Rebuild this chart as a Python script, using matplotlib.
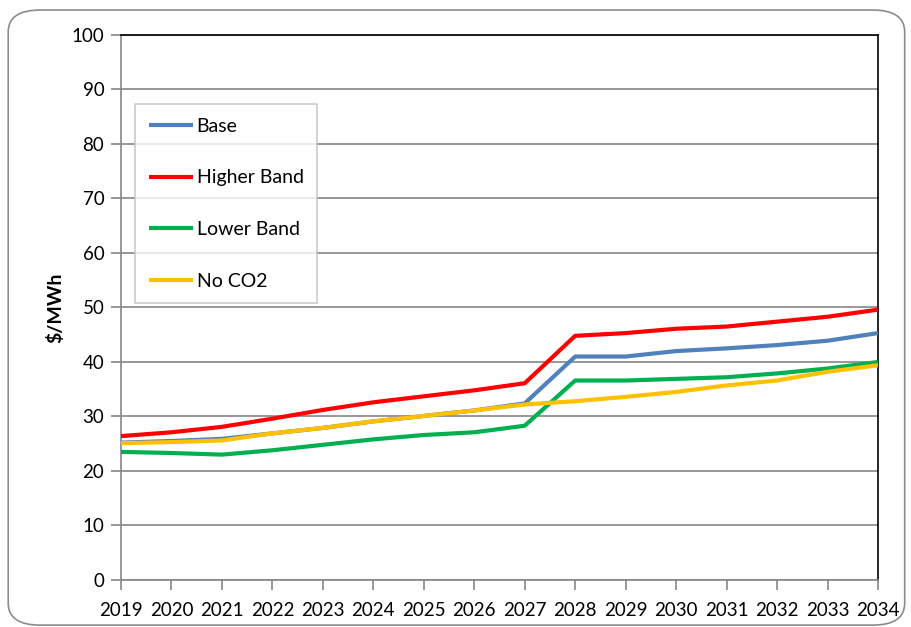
import matplotlib.pyplot as plt
from matplotlib.patches import FancyBboxPatch

years = list(range(2019, 2035))

base = [25.2, 25.5, 25.9, 26.9, 27.9, 29.1, 30.1, 31.1, 32.4,
        41.0, 41.0, 42.0, 42.5, 43.1, 43.9, 45.3]
higher_band = [26.4, 27.1, 28.1, 29.6, 31.2, 32.6, 33.7, 34.8, 36.1,
               44.8, 45.3, 46.1, 46.5, 47.4, 48.3, 49.6]
lower_band = [23.5, 23.3, 23.0, 23.8, 24.8, 25.8, 26.6, 27.1, 28.3,
              36.6, 36.6, 36.9, 37.2, 37.9, 38.8, 40.0]
no_co2 = [25.1, 25.3, 25.6, 26.9, 27.9, 29.1, 30.1, 31.1, 32.2,
          32.8, 33.6, 34.5, 35.7, 36.6, 38.2, 39.4]

series = [
    ("Base", base, "#4F81BD"),
    ("Higher Band", higher_band, "#FF0000"),
    ("Lower Band", lower_band, "#00B050"),
    ("No CO2", no_co2, "#FFC000"),
]

plt.rcParams["font.family"] = ["Lato", "DejaVu Sans"]

fig = plt.figure(figsize=(9.12, 6.27), dpi=100)

# rounded chart-area frame
frame = FancyBboxPatch((0.009, 0.003), 0.983, 0.981,
                       boxstyle="round,pad=0,rounding_size=0.035",
                       transform=fig.transFigure, facecolor="none",
                       edgecolor="#8C8C8C", linewidth=1.2, zorder=0)
fig.patches.append(frame)

ax = fig.add_axes([0.1327, 0.075, 0.830, 0.8692])
ax.set_facecolor("none")

for name, values, color in series:
    ax.plot(years, values, color=color, linewidth=3.0, label=name,
            solid_capstyle="butt", zorder=3)

ax.set_xlim(2019, 2034)
ax.set_ylim(0, 100)
ax.set_xticks(years)
ax.set_yticks(range(0, 101, 10))
ax.tick_params(axis="both", labelsize=13.5, colors="#868686",
               labelcolor="black", length=7, width=1.2)
ax.tick_params(axis="x", pad=9)
ax.tick_params(axis="y", pad=5)

ax.grid(axis="y", color="#868686", linewidth=1.2, zorder=1)
ax.set_axisbelow(True)

ax.spines["left"].set_color("#868686")
ax.spines["bottom"].set_color("#868686")
ax.spines["top"].set_color("black")
ax.spines["right"].set_color("black")
for s in ax.spines.values():
    s.set_linewidth(1.2)

ax.set_ylabel("$/MWh", fontsize=14, fontweight="bold", labelpad=5)

leg = ax.legend(loc="upper left", bbox_to_anchor=(0.0185, 0.873),
                fontsize=14, frameon=True, fancybox=False,
                handlelength=2.27, handletextpad=0.2, labelspacing=1.78,
                borderpad=0.7, borderaxespad=0)
leg.get_frame().set_edgecolor("#BFBFBF")
leg.get_frame().set_linewidth(1.2)
leg.set_zorder(5)

plt.savefig("out.png", dpi=100)
plt.close()
